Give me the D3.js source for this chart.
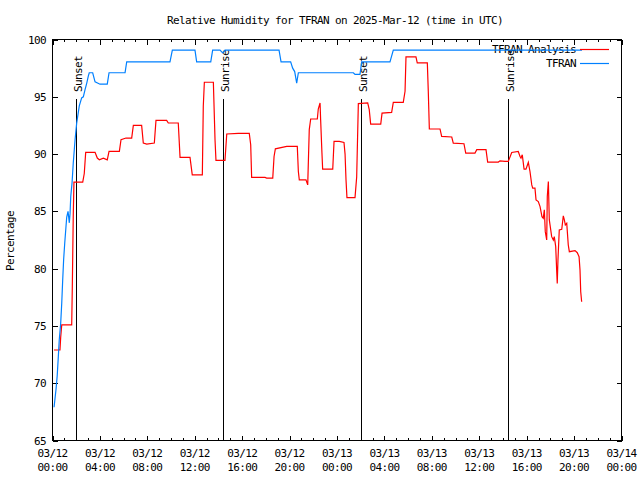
<!DOCTYPE html>
<html><head><meta charset="utf-8">
<script src="https://cdn.jsdelivr.net/npm/d3@7"></script>
<style>
body{margin:0;background:#fff}
text{font-family:"DejaVu Sans Mono","Liberation Mono",monospace;font-size:11px;letter-spacing:-0.62px;fill:#000}
</style>
</head><body><svg id="c" width="640" height="480"></svg>
<script>
const chartTitle = "Relative Humidity for TFRAN on 2025-Mar-12 (time in UTC)";
const yLabel = "Percentage";
const startTime = Date.UTC(2025, 2, 12, 0, 0);
const endTime = Date.UTC(2025, 2, 14, 0, 0);
const yTicks = [65, 70, 75, 80, 85, 90, 95, 100];
const seriesNames = ["TFRAN Analysis", "TFRAN"];
const seriesColors = ["#ff0000", "#0080ff"];

// hours since 03/12 00:00 UTC
const tfranHours = [0.13,0.30,0.40,0.49,0.57,0.69,0.78,0.86,0.94,1.03,1.14,1.20,1.31,1.42,1.48,1.54,1.65,1.75,1.84,1.90,2.04,2.26,2.46,2.60,2.74,2.89,3.02,3.10,3.39,3.59,4.01,4.62,4.77,6.12,6.26,9.91,10.11,12.02,12.16,13.35,13.51,14.13,14.36,14.55,19.11,19.28,20.09,20.26,20.43,20.60,20.74,25.38,25.52,25.94,26.08,28.47,28.75,44.67];
const tfranValues = [67.9,69.5,70.7,72.3,73.8,75.2,77.0,79.0,80.8,82.2,83.7,84.5,85.0,84.0,84.8,86.3,87.5,89.2,90.4,91.2,92.7,94.2,94.9,95.0,95.6,96.2,96.8,97.1,97.1,96.3,96.1,96.1,97.1,97.1,98.05,98.05,99.07,99.07,98.05,98.05,99.07,99.07,98.83,99.07,99.07,98.05,98.05,97.5,97.2,96.2,97.1,97.1,96.95,96.95,98.05,98.05,99.07,99.07];

const analysisHours = [0.13,0.63,0.69,0.78,1.62,1.67,1.75,1.81,2.55,2.68,2.80,3.59,3.78,3.95,4.29,4.62,4.77,5.64,5.78,6.20,6.68,6.82,7.52,7.66,7.95,8.59,8.73,9.63,9.77,10.61,10.76,11.60,11.79,12.64,12.72,12.81,13.57,13.71,13.79,14.55,14.70,15.67,16.60,16.72,16.80,17.93,18.07,18.58,18.69,18.80,19.76,20.65,20.74,20.82,21.38,21.53,21.66,21.78,22.34,22.42,22.57,22.62,22.73,22.79,23.64,23.75,24.19,24.59,24.68,24.76,24.84,25.52,25.66,25.80,26.59,26.72,26.84,27.69,27.80,28.61,28.75,29.59,29.74,29.82,30.66,30.77,31.62,31.70,31.79,32.69,32.83,33.68,33.81,34.71,34.86,35.64,35.79,36.57,36.71,37.61,37.75,38.17,38.45,38.74,39.29,39.44,39.52,39.63,39.78,39.94,40.14,40.28,40.43,40.51,40.70,40.79,40.98,41.13,41.21,41.29,41.40,41.49,41.57,41.69,41.74,41.83,41.91,42.03,42.11,42.25,42.33,42.45,42.53,42.58,42.64,42.75,42.96,43.09,43.18,43.26,43.38,43.51,43.60,44.08,44.27,44.42,44.50,44.56,44.64];
const analysisValues = [72.9,72.9,74.0,75.1,75.1,78.3,84.5,87.55,87.55,88.3,90.15,90.15,89.65,89.5,89.65,89.5,90.23,90.23,91.25,91.4,91.4,92.5,92.5,90.96,90.87,90.96,92.94,92.94,92.71,92.71,89.71,89.71,88.19,88.19,94.17,96.27,96.27,91.25,89.45,89.45,91.75,91.8,91.8,90.81,87.96,87.96,87.9,87.9,89.79,90.46,90.67,90.67,88.48,87.75,87.75,87.31,92.13,93.06,93.06,93.93,94.46,93.0,90.09,88.68,88.68,91.1,91.1,91.02,90.0,87.75,86.2,86.2,88.0,94.4,94.46,93.88,92.62,92.62,93.58,93.64,94.52,94.52,95.48,98.48,98.48,97.96,97.96,95.5,92.19,92.19,91.54,91.49,90.96,90.9,90.09,90.09,90.38,90.38,89.3,89.3,89.41,89.36,89.36,90.14,90.23,89.79,89.65,89.94,88.68,88.68,89.27,88.48,87.31,87.02,87.02,86.0,85.86,85.42,84.98,84.54,84.4,85.13,83.23,82.5,86.29,87.61,84.25,83.38,82.79,82.5,82.79,81.92,79.88,78.71,80.75,83.38,83.44,84.6,84.25,83.81,83.96,82.06,81.48,81.57,81.39,81.04,79.88,77.98,77.11];

const sunHours = [2.01, 14.40, 26.05, 38.45];
const sunLabels = ["Sunset", "Sunrise", "Sunset", "Sunrise"];
const sunLineTop = 94.85;

const svg = d3.select("#c");
const L = 52.5, R = 621.5, T = 39.5, B = 440.5;
const toDate = h => new Date(startTime + h * 3600e3);
const x = d3.scaleUtc().domain([new Date(startTime), new Date(endTime)]).range([L, R]);
const y = d3.scaleLinear().domain([65, 100]).range([B, T]);

svg.append("rect").attr("width", 640).attr("height", 480).attr("fill", "#fff");

// title
svg.append("text").attr("x", 335).attr("y", 24).attr("text-anchor", "middle").text(chartTitle);

// ticks via d3 axes
const majorX = x.ticks(d3.utcHour.every(4));
const minorX = x.ticks(d3.utcHour.every(1));
function addAxis(axis, tx, ty) {
  const g = svg.append("g").attr("transform", `translate(${tx},${ty})`).call(axis);
  g.select(".domain").remove();
  g.selectAll("line").attr("stroke", "#000").attr("shape-rendering", "crispEdges");
  g.selectAll("text").remove();
  return g;
}
addAxis(d3.axisBottom(x).tickValues(minorX).tickSize(-2.5).tickFormat(""), 0, B);
addAxis(d3.axisBottom(x).tickValues(majorX).tickSize(-5).tickFormat(""), 0, B);
addAxis(d3.axisTop(x).tickValues(minorX).tickSize(-2.5).tickFormat(""), 0, T);
addAxis(d3.axisTop(x).tickValues(majorX).tickSize(-5).tickFormat(""), 0, T);
addAxis(d3.axisLeft(y).tickValues(yTicks).tickSize(-5).tickFormat(""), L, 0);
addAxis(d3.axisRight(y).tickValues(yTicks).tickSize(-5).tickFormat(""), R, 0);

// x labels
const fmtD = d3.utcFormat("%m/%d"), fmtT = d3.utcFormat("%H:%M");
majorX.forEach(d => {
  const t = svg.append("text").attr("text-anchor", "middle").attr("x", x(d));
  t.append("tspan").attr("x", x(d)).attr("y", 457).text(fmtD(d));
  t.append("tspan").attr("x", x(d)).attr("y", 471).text(fmtT(d));
});
// y labels
yTicks.forEach(v => {
  svg.append("text").attr("x", 46).attr("y", y(v) + 4).attr("text-anchor", "end").text(v);
});
svg.append("text").attr("transform", "translate(14,241) rotate(-90)").attr("text-anchor", "middle").text(yLabel);

// border
svg.append("rect").attr("x", L).attr("y", T).attr("width", R - L).attr("height", B - T)
  .attr("fill", "none").attr("stroke", "#000").attr("shape-rendering", "crispEdges");

// sun lines
sunHours.forEach((h, i) => {
  const xx = Math.round(x(toDate(h))) + 0.5;
  svg.append("line").attr("x1", xx).attr("x2", xx).attr("y1", B).attr("y2", y(sunLineTop))
    .attr("stroke", "#000").attr("shape-rendering", "crispEdges");
  svg.append("text").attr("transform", `translate(${xx + 5},92) rotate(-90)`).text(sunLabels[i]);
});

// legend text
svg.append("text").attr("x", 576).attr("y", 53).attr("text-anchor", "end").text(seriesNames[0]);
svg.append("text").attr("x", 576).attr("y", 67).attr("text-anchor", "end").text(seriesNames[1]);

// series
const line = d3.line().x(d => x(toDate(d[0]))).y(d => y(d[1]));
svg.append("path").datum(d3.zip(analysisHours, analysisValues)).attr("d", line)
  .attr("fill", "none").attr("stroke", seriesColors[0]).attr("stroke-width", 1.2);
svg.append("path").datum(d3.zip(tfranHours, tfranValues)).attr("d", line)
  .attr("fill", "none").attr("stroke", seriesColors[1]).attr("stroke-width", 1.2);

// legend lines
svg.append("line").attr("x1", 580).attr("x2", 609).attr("y1", 49.5).attr("y2", 49.5)
  .attr("stroke", seriesColors[0]).attr("stroke-width", 1.2);
svg.append("line").attr("x1", 580).attr("x2", 609).attr("y1", 63.5).attr("y2", 63.5)
  .attr("stroke", seriesColors[1]).attr("stroke-width", 1.2);
</script>
</body></html>
